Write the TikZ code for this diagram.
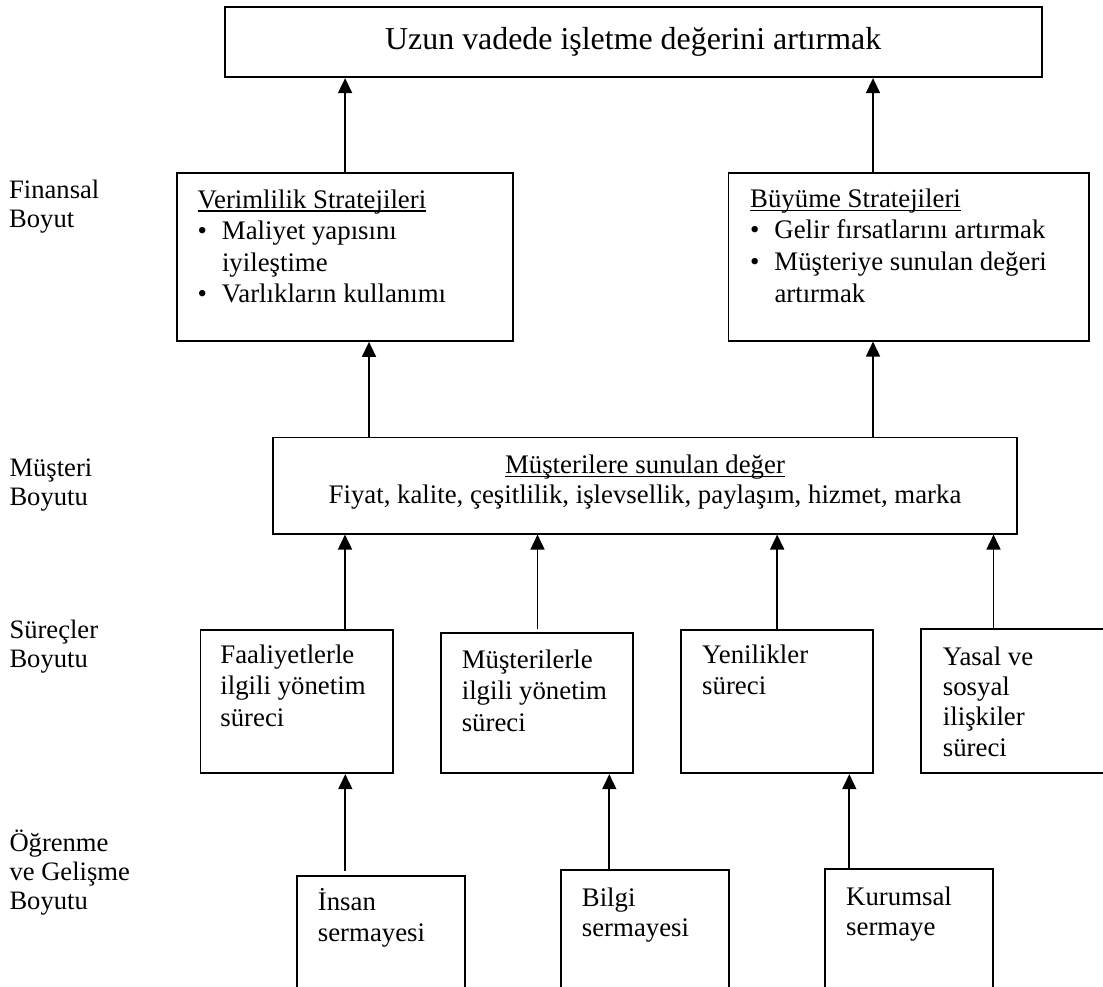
\documentclass[tikz,border=0pt]{standalone}
\usepackage{fontspec}
\setmainfont{Liberation Serif}
\usetikzlibrary{arrows.meta,calc}
\newcommand{\ulin}[1]{\leavevmode\setbox0\hbox{#1}\rlap{\rule[-3.6pt]{\wd0}{1.3pt}}\box0}
\newcommand{\bul}{\makebox[24.3pt][l]{•}}
\newcommand{\ind}{\hspace*{24.3pt}}
\begin{document}
\begin{tikzpicture}[x=1pt,y=-1pt,
  box/.style={draw, line width=1.7pt, inner sep=0pt},
  arr/.style={-{Triangle[length=15pt,width=14pt]}, line width=1.7pt},
  txt/.style={anchor=base west, align=left, inner sep=0pt, font=\fontsize{26.8}{31.6}\selectfont},
  lbl/.style={anchor=base west, align=left, inner sep=0pt, font=\fontsize{26.6}{29}\selectfont}]
\useasboundingbox (0,0) rectangle (1103,986);
\clip (0,0) rectangle (1103,986);
\fill[white] (0,0) rectangle (1103,986);

% boxes
\node[box, minimum width=817pt, minimum height=70pt, font=\fontsize{31.9}{38}\selectfont] (goal) at (633.2,42.3) {Uzun vadede işletme değerini artırmak};
\node[box, minimum width=336.2pt, minimum height=168.3pt] (ver) at (345.1,256.9) {};
\node[box, minimum width=360.8pt, minimum height=168pt] (buy) at (908.9,256.7) {};
\node[box, minimum width=744.2pt, minimum height=96.2pt] (cust) at (645.1,485.6) {};
\node[box, minimum width=192.7pt, minimum height=143.3pt] (p1) at (296.75,701.65) {};
\node[box, minimum width=192.1pt, minimum height=140pt] (p2) at (536.75,703.3) {};
\node[box, minimum width=192.3pt, minimum height=143.3pt] (p3) at (777.15,701.65) {};
\node[box, minimum width=192.7pt, minimum height=144pt] (p4) at (1017.05,701.3) {};
\node[box, minimum width=167.7pt, minimum height=124pt] (b1) at (380.85,938) {};
\node[box, minimum width=167.7pt, minimum height=130pt] (b2) at (644.85,935) {};
\node[box, minimum width=168pt, minimum height=130.7pt] (b3) at (909.3,934.65) {};

% texts in boxes (anchor = baseline of the last line)
\node[txt] (verT) at (197.5,302.8) {\ulin{Verimlilik Stratejileri}\\ \bul Maliyet yapısını\\ \ind iyileştime\\ \bul Varlıkların kullanımı};
\node[txt] (buyT) at (750,302.1) {\ulin{Büyüme Stratejileri}\\ \bul Gelir fırsatlarını artırmak\\ \bul Müşteriye sunulan değeri\\ \ind artırmak};
\node[anchor=base, align=center, inner sep=0pt, font=\fontsize{26.8}{30}\selectfont] (custT) at (645,503.3) {\ulin{Müşterilere sunulan değer}\\ Fiyat, kalite, çeşitlilik, işlevsellik, paylaşım, hizmet, marka};
\node[txt] (p1T) at (220.2,726.5) {Faaliyetlerle\\ ilgili yönetim\\ süreci};
\node[txt] (p2T) at (461.6,731.5) {Müşterilerle\\ ilgili yönetim\\ süreci};
\node[txt] (p3T) at (702,694.9) {Yenilikler\\ süreci};
\node[txt, font=\fontsize{26.8}{30.4}\selectfont] (p4T) at (942.7,756.2) {Yasal ve\\ sosyal\\ ilişkiler\\ süreci};
\node[txt, font=\fontsize{26.8}{31}\selectfont] (b1T) at (317.7,941.7) {İnsan\\ sermayesi};
\node[txt, font=\fontsize{26.8}{30}\selectfont] (b2T) at (581.7,936) {Bilgi\\ sermayesi};
\node[txt, font=\fontsize{26.8}{30}\selectfont] (b3T) at (846,935) {Kurumsal\\ sermaye};

% left labels
\node[lbl] (l1) at (9,227.3) {Finansal\\ Boyut};
\node[lbl] (l2) at (9.3,505.7) {Müşteri\\ Boyutu};
\node[lbl] (l3) at (9.3,667.3) {Süreçler\\ Boyutu};
\node[lbl] (l4) at (9.3,909.7) {Öğrenme\\ ve Gelişme\\ Boyutu};

% connectors
\draw[arr] (ver.north) -- (ver.north |- goal.south);
\draw[arr] ($(buy.north)+(-35.9,0)$) -- ($(buy.north |- goal.south)+(-35.9,0)$);
\draw[arr] ($(cust.north)+(-276.1,0)$) -- ($(cust.north |- ver.south)+(-276.1,0)$);
\draw[arr] ($(cust.north)+(227.9,0)$) -- ($(cust.north |- buy.south)+(227.9,0)$);
\draw[arr] ($(p1.north)+(48.25,0)$) -- ($(p1.north |- cust.south)+(48.25,0)$);
\draw[arr] ($(p2.north)+(0.75,-3.3)$) -- ($(p2.north |- cust.south)+(0.75,0)$);
\draw[arr] (p3.north) -- (p3.north |- cust.south);
\draw[arr] ($(p4.north)+(-23.55,0)$) -- ($(p4.north |- cust.south)+(-23.55,0)$);
\draw[arr] ($(b1.north)+(-35.55,-4)$) -- ($(b1.north |- p1.south)+(-35.55,0)$);
\draw[arr] ($(b2.north)+(-35.55,0)$) -- ($(b2.north |- p2.south)+(-35.55,0)$);
\draw[arr] ($(b3.north)+(-60,0)$) -- ($(b3.north |- p3.south)+(-60,0)$);
\end{tikzpicture}
\end{document}
